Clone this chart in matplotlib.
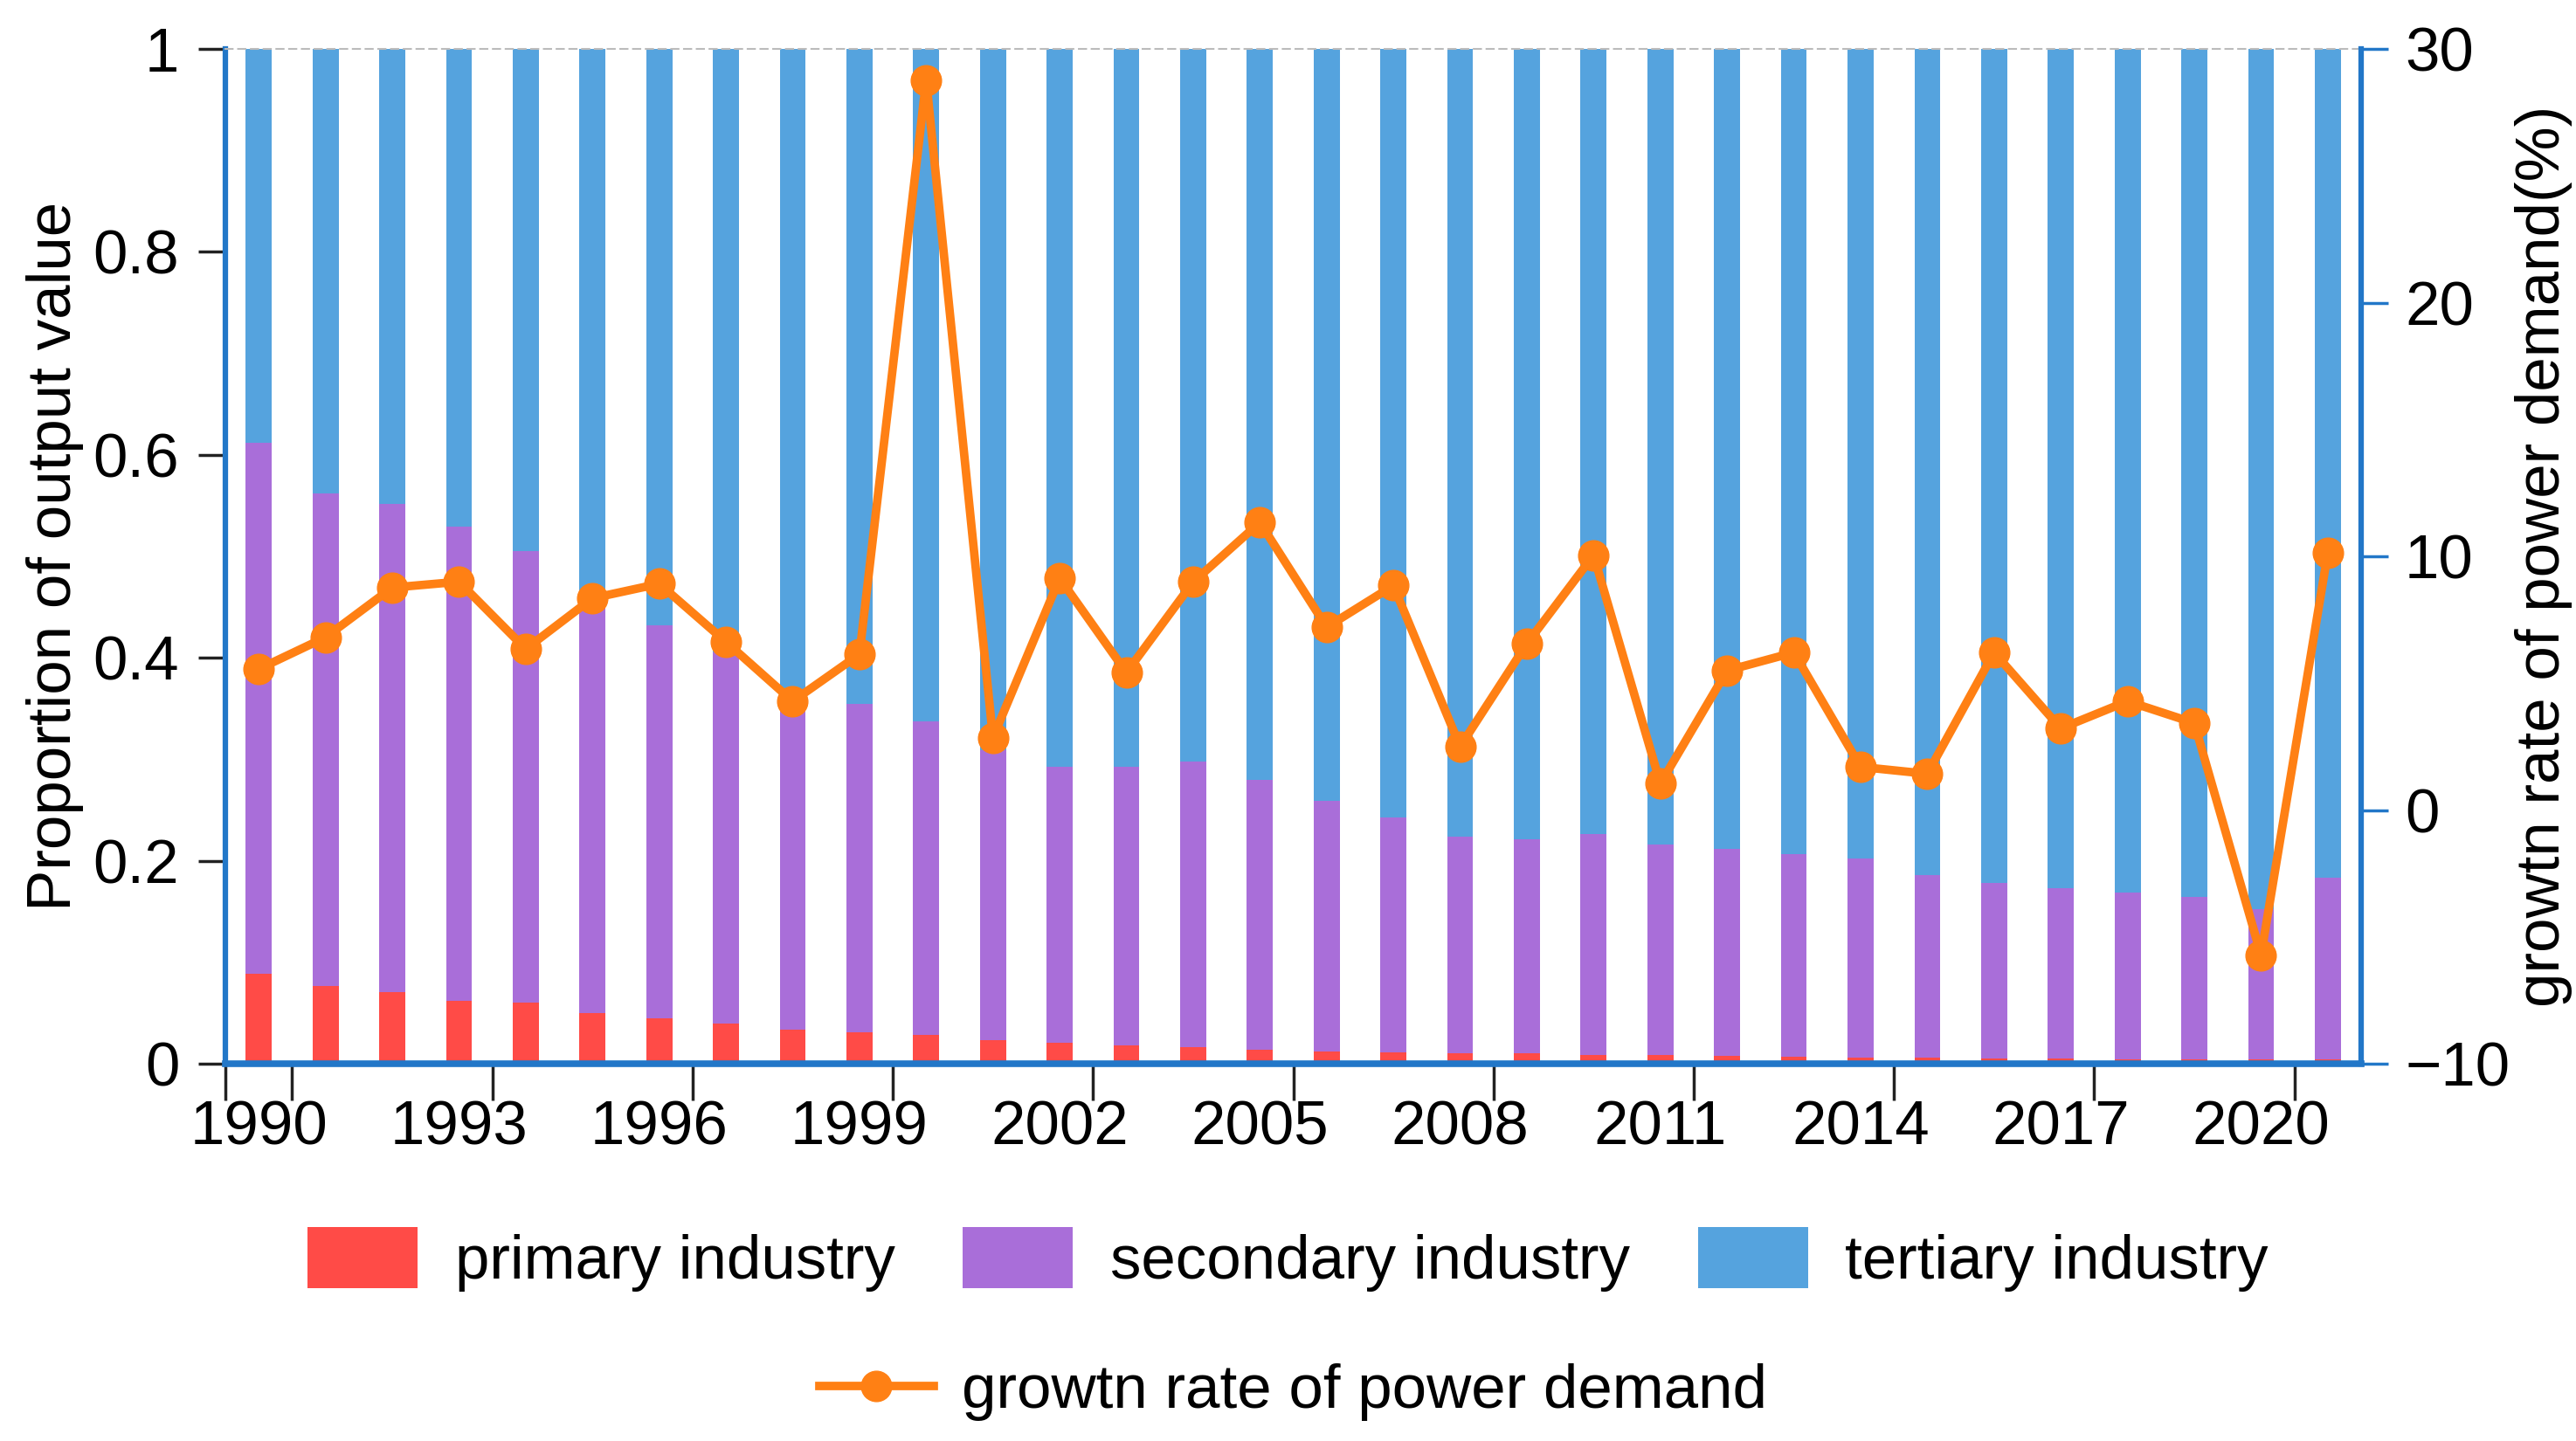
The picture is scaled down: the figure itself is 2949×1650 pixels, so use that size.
import matplotlib
matplotlib.use('Agg')
import matplotlib.pyplot as plt
from matplotlib.patches import FancyBboxPatch, Rectangle
from matplotlib.legend_handler import HandlerPatch
import numpy as np

plt.rcParams['font.family'] = ['Liberation Sans', 'DejaVu Sans']

years = list(range(1990, 2022))
primary = [0.089, 0.077, 0.071, 0.062, 0.060, 0.050, 0.045, 0.040, 0.034, 0.031,
           0.028, 0.023, 0.021, 0.018, 0.016, 0.014, 0.012, 0.011, 0.010, 0.010,
           0.009, 0.009, 0.008, 0.007, 0.006, 0.006, 0.005, 0.005, 0.004, 0.004,
           0.004, 0.004]
secondary = [0.523, 0.485, 0.481, 0.467, 0.445, 0.415, 0.387, 0.365, 0.331, 0.324,
             0.309, 0.286, 0.272, 0.275, 0.282, 0.266, 0.247, 0.232, 0.214, 0.211,
             0.217, 0.207, 0.204, 0.200, 0.196, 0.180, 0.173, 0.168, 0.165, 0.160,
             0.148, 0.179]
tertiary = [0.388, 0.438, 0.448, 0.471, 0.495, 0.535, 0.568, 0.595, 0.635, 0.645,
            0.663, 0.691, 0.707, 0.707, 0.702, 0.720, 0.741, 0.757, 0.776, 0.779,
            0.774, 0.784, 0.788, 0.793, 0.798, 0.814, 0.822, 0.827, 0.831, 0.836,
            0.848, 0.817]
growth = [5.56, 6.81, 8.77, 9.0, 6.35, 8.35, 8.92, 6.63, 4.29, 6.14,
          28.78, 2.85, 9.14, 5.42, 8.99, 11.34, 7.21, 8.85, 2.50, 6.56,
          10.05, 1.04, 5.5, 6.21, 1.70, 1.43, 6.21, 3.22, 4.29, 3.43,
          -5.72, 10.14]

c_red = '#FF4B47'
c_purple = '#A96ED9'
c_blue = '#55A3DE'
c_orange = '#FF8014'
c_axis = '#2277C8'
fs = 51

x = np.arange(len(years))
fig = plt.figure(figsize=(29.49, 16.5), dpi=100)
ax = fig.add_axes([0.0875, 0.2618, 0.8291, 0.7042])

w = 0.39
b1 = ax.bar(x, primary, w, color=c_red, label='primary industry')
b2 = ax.bar(x, secondary, w, bottom=primary, color=c_purple, label='secondary industry')
bot3 = np.array(primary) + np.array(secondary)
b3 = ax.bar(x, tertiary, w, bottom=bot3, color=c_blue, label='tertiary industry')

ax.set_xlim(-0.5, len(years) - 0.5)
ax.set_ylim(0, 1)
ax.set_yticks([0, 0.2, 0.4, 0.6, 0.8, 1])
ax.set_yticklabels(['0', '0.2', '0.4', '0.6', '0.8', '1'])
ax.tick_params(axis='y', labelsize=fs, length=22, width=2.5, color='#222222', pad=16)

# tick marks between categories, labels centred on bars
ax.set_xticks([-0.5] + list(np.arange(0.5, len(years), 3)))
ax.set_xticklabels([])
ax.set_xticks(x[::3], minor=True)
ax.set_xticklabels([str(y) for y in years[::3]], minor=True)
ax.tick_params(axis='x', which='major', length=30, width=2.5, color='#222222')
ax.tick_params(axis='x', which='minor', length=0, labelsize=fs, pad=30)

for s in ['left', 'bottom']:
    ax.spines[s].set_color(c_axis)
ax.spines['left'].set_linewidth(4.5)
ax.spines['bottom'].set_linewidth(5.5)
ax.spines['right'].set_visible(False)
ax.spines['top'].set_color('#BBBBBB')
ax.spines['top'].set_linestyle((0, (4, 3)))
ax.spines['top'].set_linewidth(1.5)
ax.set_ylabel('Proportion of output value', fontsize=fs, labelpad=8)

ax2 = ax.twinx()
ln, = ax2.plot(x, growth, color=c_orange, linewidth=7, marker='o', markersize=25,
               label='growtn rate of power demand')
ax2.set_ylim(-10, 30)
ax2.set_yticks([-10, 0, 10, 20, 30])
ax2.set_yticklabels(['\u221210', '0', '10', '20', '30'])
ax2.tick_params(axis='y', labelsize=fs, length=22, width=2.5, color=c_axis, pad=14)
for s in ['left', 'top', 'bottom']:
    ax2.spines[s].set_visible(False)
ax2.spines['right'].set_color(c_axis)
ax2.spines['right'].set_linewidth(4.5)
ax2.set_ylabel('growtn rate of power demand(%)', fontsize=fs, labelpad=4)


def rounded(legend, orig_handle, xdescent, ydescent, width, height, fontsize):
    return FancyBboxPatch((-xdescent, -ydescent), width, height,
                          boxstyle='round,pad=0,rounding_size=%f' % (height * 0.22))


fig.legend(handles=[b1, b2, b3], loc='center', bbox_to_anchor=(0.5, 0.126), ncol=3,
           frameon=False, fontsize=fs, handlelength=1.78, handleheight=1.15,
           handletextpad=0.6, columnspacing=1.1,
           handler_map={Rectangle: HandlerPatch(patch_func=rounded)})
fig.legend(handles=[ln], loc='center', bbox_to_anchor=(0.502, 0.034), frameon=False,
           fontsize=fs, handlelength=1.84, handletextpad=0.45)

fig.savefig('out.png', dpi=100)
